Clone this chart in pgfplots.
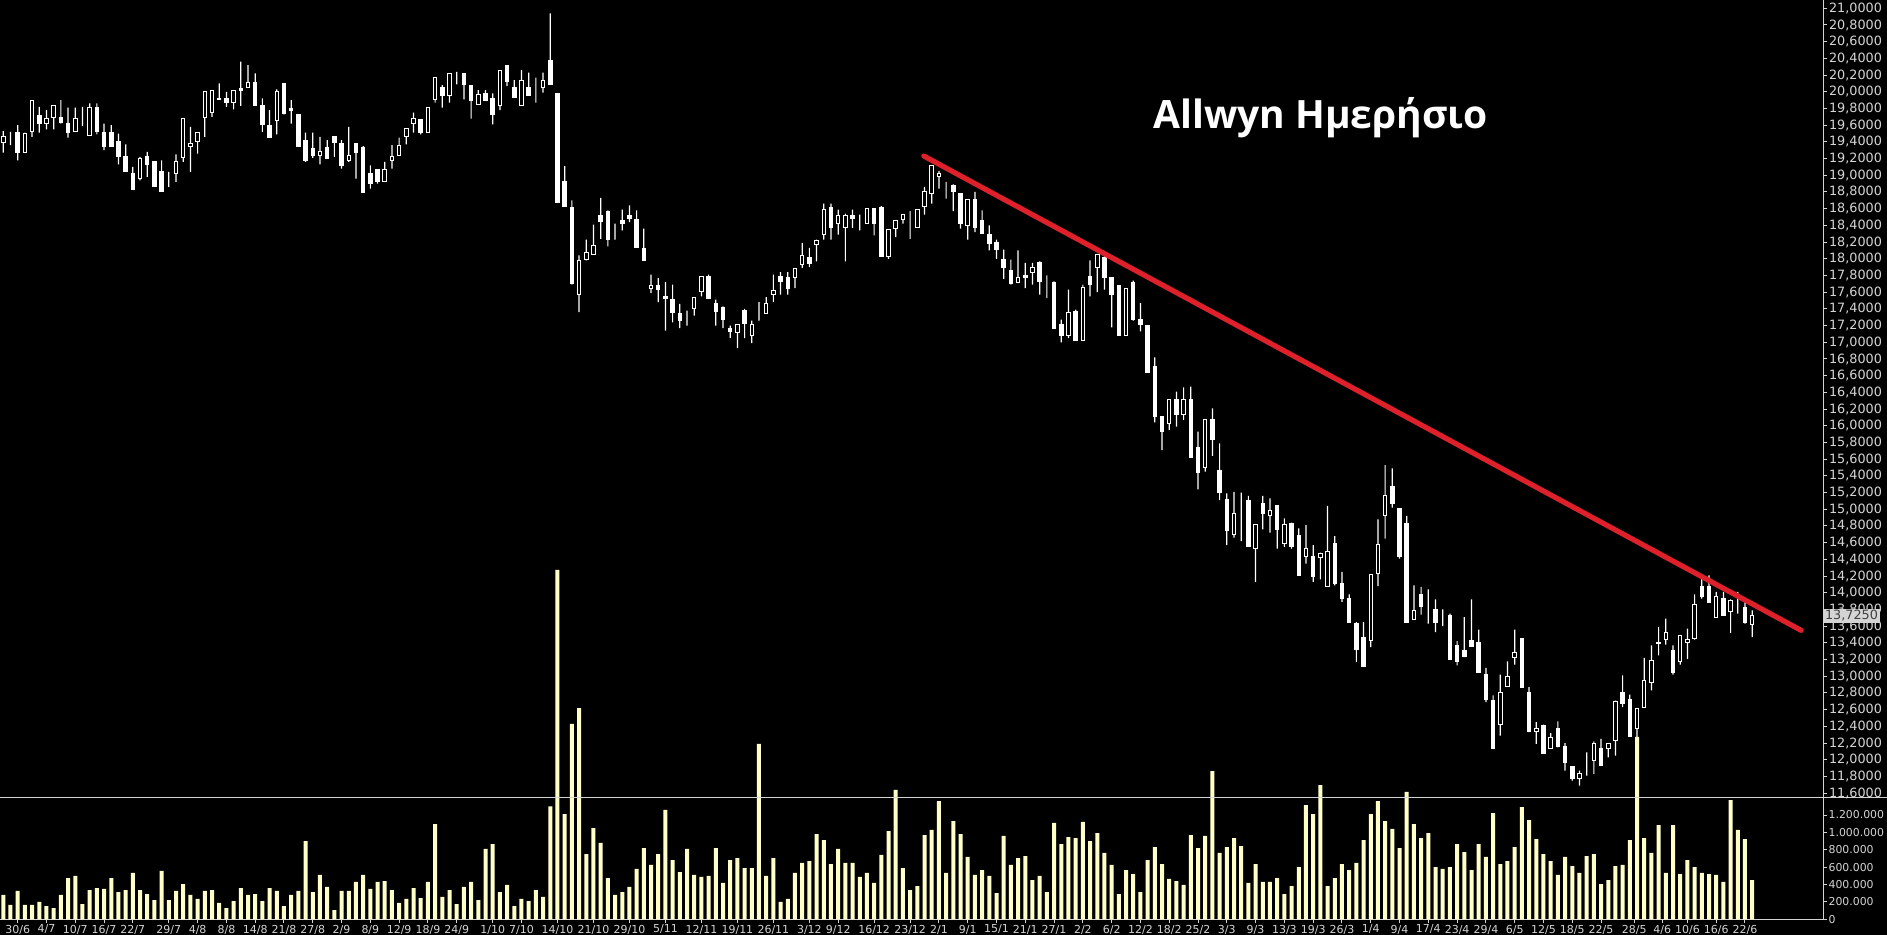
\documentclass[border=0pt]{standalone}
\usepackage{fontspec}
\usepackage{pgfplots}
\pgfplotsset{compat=1.18}
\usepackage{pgfplotstable}
\setmainfont{DejaVu Sans}
\newfontfamily\titlefont{Open Sans}
\definecolor{vol}{RGB}{255,255,200}
\definecolor{trend}{RGB}{222,32,42}
\definecolor{frame}{RGB}{212,212,212}

\pgfplotstableread{
i o h l c v
1 19.39 19.53 19.27 19.47 0.28
2 19.51 19.52 19.36 19.51 0.165
3 19.51 19.60 19.18 19.27 0.326
4 19.27 19.51 19.27 19.50 0.165
5 19.52 19.90 19.46 19.90 0.165
6 19.72 19.82 19.51 19.62 0.20
7 19.62 19.78 19.55 19.68 0.153
8 19.69 19.83 19.55 19.83 0.13
9 19.69 19.90 19.62 19.63 0.28
10 19.62 19.81 19.45 19.51 0.475
11 19.53 19.81 19.53 19.68 0.50
12 19.72 19.82 19.59 19.72 0.176
13 19.48 19.86 19.48 19.81 0.337
14 19.81 19.86 19.49 19.52 0.36
15 19.51 19.62 19.30 19.34 0.35
16 19.51 19.60 19.34 19.34 0.475
17 19.41 19.50 19.13 19.22 0.314
18 19.22 19.37 19.04 19.04 0.337
19 19.02 19.10 18.83 18.83 0.533
20 18.96 19.22 18.94 19.20 0.337
21 19.22 19.28 18.98 19.13 0.29
22 19.17 19.17 18.86 18.86 0.222
23 19.04 19.18 18.80 18.80 0.556
24 18.97 19.04 18.86 18.97 0.222
25 19.02 19.25 18.92 19.17 0.326
26 19.21 19.68 19.16 19.68 0.406
27 19.34 19.58 19.04 19.38 0.28
28 19.40 19.51 19.26 19.51 0.234
29 19.69 20.00 19.46 20.00 0.326
30 19.75 20.02 19.70 20.02 0.337
31 19.92 20.10 19.91 19.91 0.188
32 19.92 20.00 19.82 19.87 0.13
33 19.87 20.02 19.79 20.02 0.21
34 20.04 20.36 19.83 20.02 0.36
35 20.05 20.32 20.05 20.11 0.28
36 20.11 20.22 19.84 19.84 0.29
37 19.83 19.92 19.52 19.61 0.21
38 19.60 19.78 19.45 19.45 0.36
39 19.66 20.03 19.49 20.00 0.326
40 20.10 20.10 19.73 19.74 0.153
41 19.80 19.90 19.62 19.78 0.28
42 19.73 19.73 19.34 19.34 0.326
43 19.42 19.51 19.16 19.18 0.90
44 19.32 19.51 19.21 19.24 0.314
45 19.24 19.46 19.13 19.29 0.51
46 19.33 19.42 19.20 19.20 0.372
47 19.47 19.47 19.22 19.39 0.107
48 19.38 19.42 19.08 19.12 0.326
49 19.18 19.58 19.16 19.24 0.326
50 19.38 19.38 18.96 19.27 0.43
51 19.33 19.35 18.79 18.79 0.51
52 19.02 19.12 18.84 18.90 0.35
53 19.07 19.07 18.90 18.92 0.43
54 18.92 19.16 18.92 19.07 0.44
55 19.18 19.36 19.08 19.23 0.337
56 19.24 19.45 19.24 19.36 0.188
57 19.47 19.56 19.37 19.56 0.234
58 19.62 19.75 19.51 19.68 0.36
59 19.67 19.67 19.49 19.51 0.245
60 19.51 19.81 19.51 19.81 0.43
61 19.91 20.17 19.87 20.17 1.096
62 20.05 20.08 19.81 19.95 0.257
63 19.95 20.22 19.87 20.22 0.337
64 20.23 20.24 20.09 20.23 0.176
65 20.22 20.22 19.91 20.09 0.372
66 20.08 20.08 19.68 19.90 0.43
67 19.85 20.02 19.85 19.97 0.222
68 19.98 20.02 19.89 19.89 0.81
69 19.92 19.98 19.61 19.73 0.866
70 19.83 20.26 19.78 20.26 0.314
71 20.32 20.32 20.07 20.12 0.395
72 20.05 20.14 19.93 19.93 0.153
73 19.83 20.26 19.83 20.14 0.234
74 20.05 20.23 19.96 19.96 0.21
75 20.03 20.17 19.87 20.03 0.337
76 20.05 20.23 19.99 20.14 0.257
77 20.38 20.94 20.09 20.09 1.30
78 19.98 19.98 18.68 18.68 4.02
79 18.92 19.11 18.63 18.63 1.21
80 18.62 18.70 17.69 17.70 2.25
81 17.57 18.04 17.36 17.98 2.43
82 17.99 18.23 17.98 18.08 0.75
83 18.05 18.41 18.05 18.16 1.05
84 18.52 18.73 18.24 18.45 0.88
85 18.57 18.58 18.15 18.23 0.475
86 18.32 18.42 18.23 18.32 0.28
87 18.46 18.59 18.34 18.42 0.314
88 18.52 18.64 18.44 18.48 0.372
89 18.47 18.58 18.14 18.14 0.579
90 18.12 18.36 17.98 17.98 0.82
91 17.65 17.81 17.59 17.68 0.625
92 17.68 17.77 17.48 17.63 0.75
93 17.55 17.72 17.14 17.53 1.258
94 17.51 17.69 17.24 17.36 0.68
95 17.35 17.46 17.17 17.26 0.544
96 17.26 17.38 17.20 17.26 0.81
97 17.40 17.54 17.32 17.54 0.51
98 17.61 17.79 17.55 17.79 0.487
99 17.79 17.81 17.53 17.53 0.50
100 17.46 17.51 17.20 17.37 0.82
101 17.42 17.43 17.17 17.27 0.418
102 17.17 17.20 17.05 17.13 0.68
103 17.12 17.21 16.93 17.21 0.705
104 17.38 17.40 17.05 17.23 0.59
105 17.08 17.26 16.99 17.21 0.59
106 17.30 17.48 17.26 17.30 2.02
107 17.34 17.54 17.34 17.47 0.50
108 17.57 17.81 17.48 17.62 0.705
109 17.79 17.84 17.57 17.73 0.20
110 17.77 17.84 17.57 17.65 0.234
111 17.77 17.88 17.65 17.88 0.533
112 17.93 18.19 17.89 18.04 0.648
113 18.02 18.13 17.90 17.94 0.67
114 18.17 18.23 17.97 18.22 0.98
115 18.29 18.66 18.23 18.59 0.91
116 18.62 18.66 18.23 18.38 0.636
117 18.42 18.59 18.29 18.52 0.81
118 18.37 18.54 17.97 18.52 0.648
119 18.52 18.59 18.37 18.48 0.648
120 18.52 18.53 18.34 18.52 0.487
121 18.42 18.60 18.42 18.60 0.533
122 18.60 18.60 18.28 18.42 0.418
123 18.62 18.63 18.03 18.03 0.74
124 18.03 18.35 18.00 18.35 1.016
125 18.36 18.46 18.26 18.46 1.49
126 18.47 18.53 18.42 18.53 0.59
127 18.53 18.57 18.24 18.53 0.337
128 18.38 18.59 18.38 18.59 0.383
129 18.63 18.86 18.53 18.80 0.97
130 18.78 19.12 18.66 19.12 1.03
131 18.99 19.05 18.84 19.02 1.36
132 18.89 18.92 18.72 18.89 0.533
133 18.88 18.89 18.57 18.80 1.13
134 18.78 18.78 18.36 18.42 0.98
135 18.40 18.71 18.23 18.71 0.717
136 18.71 18.80 18.32 18.38 0.51
137 18.46 18.58 18.30 18.30 0.567
138 18.29 18.40 18.10 18.18 0.50
139 18.20 18.23 18.00 18.11 0.30
140 17.99 18.11 17.76 17.90 0.96
141 17.86 17.99 17.69 17.71 0.625
142 17.72 18.10 17.71 17.78 0.705
143 17.80 17.95 17.65 17.77 0.728
144 17.83 17.95 17.69 17.90 0.452
145 17.96 17.97 17.57 17.73 0.50
146 17.72 17.80 17.53 17.72 0.314
147 17.72 17.73 17.17 17.17 1.11
148 17.21 17.27 17.00 17.08 0.866
149 17.08 17.63 17.05 17.36 0.947
150 17.37 17.39 17.02 17.02 0.935
151 17.02 17.69 17.02 17.66 1.12
152 17.79 17.98 17.55 17.69 0.90
153 17.89 18.06 17.60 18.05 0.993
154 18.02 18.04 17.63 17.78 0.763
155 17.77 17.78 17.18 17.57 0.625
156 17.68 17.68 17.08 17.08 0.29
157 17.08 17.65 17.08 17.65 0.567
158 17.72 17.74 17.26 17.27 0.52
159 17.27 17.47 17.13 17.21 0.314
160 17.20 17.20 16.64 16.64 0.68
161 16.71 16.82 16.04 16.11 0.83
162 16.11 16.11 15.71 15.93 0.636
163 16.03 16.32 15.95 16.32 0.464
164 16.32 16.41 15.99 16.13 0.44
165 16.13 16.46 16.07 16.32 0.395
166 16.32 16.47 15.62 15.62 0.97
167 15.74 15.93 15.24 15.44 0.82
168 15.50 16.07 15.45 16.07 0.96
169 16.07 16.21 15.64 15.83 1.706
170 15.47 15.79 15.11 15.20 0.763
171 15.12 15.19 14.57 14.75 0.83
172 14.70 15.21 14.66 14.95 0.935
173 14.96 15.20 14.62 14.96 0.843
174 15.11 15.16 14.55 14.55 0.418
175 14.53 14.82 14.13 14.82 0.636
176 15.07 15.16 14.76 14.95 0.43
177 14.93 15.13 14.72 14.98 0.43
178 15.05 15.05 14.53 14.76 0.475
179 14.59 14.89 14.55 14.82 0.29
180 14.83 14.84 14.53 14.56 0.383
181 14.69 14.77 14.21 14.21 0.60
182 14.43 14.81 14.35 14.53 1.315
183 14.44 14.57 14.13 14.19 1.21
184 14.42 14.48 14.16 14.47 1.545
185 14.08 15.04 14.08 14.50 0.383
186 14.59 14.68 14.09 14.11 0.475
187 14.11 14.25 13.89 13.93 0.636
188 13.93 13.98 13.64 13.64 0.567
189 13.63 13.65 13.17 13.32 0.648
190 13.47 13.65 13.12 13.12 0.91
191 13.43 14.22 13.35 14.22 1.21
192 14.23 14.88 14.08 14.58 1.36
193 14.93 15.53 14.65 15.17 1.13
194 15.27 15.49 15.02 15.07 1.04
195 15.01 15.01 14.41 14.43 0.82
196 14.83 14.92 13.64 13.64 1.465
197 13.68 14.09 13.68 13.79 1.096
198 13.98 14.07 13.74 13.84 0.935
199 13.83 14.04 13.63 13.83 0.993
200 13.80 13.92 13.53 13.65 0.60
201 13.65 13.80 13.60 13.65 0.579
202 13.73 13.75 13.20 13.20 0.60
203 13.37 13.42 13.13 13.18 0.866
204 13.31 13.71 13.23 13.24 0.774
205 13.43 13.92 13.36 13.36 0.567
206 13.41 13.56 13.04 13.04 0.866
207 13.02 13.10 12.69 12.72 0.717
208 12.71 12.77 12.13 12.13 1.223
209 12.42 13.02 12.29 12.81 0.636
210 12.88 13.18 12.88 13.00 0.67
211 13.23 13.56 13.14 13.28 0.83
212 13.45 13.45 12.87 12.87 1.29
213 12.81 12.87 12.33 12.34 1.14
214 12.34 12.45 12.19 12.37 0.924
215 12.41 12.42 12.08 12.08 0.75
216 12.13 12.32 12.13 12.27 0.67
217 12.37 12.46 12.15 12.16 0.51
218 12.16 12.20 11.87 11.97 0.717
219 11.92 11.92 11.75 11.78 0.613
220 11.78 11.87 11.69 11.83 0.533
221 11.82 12.09 11.81 11.82 0.728
222 11.99 12.22 11.83 12.20 0.75
223 12.13 12.25 11.93 11.93 0.406
224 12.13 12.20 12.03 12.20 0.452
225 12.23 12.71 12.05 12.70 0.613
226 12.80 13.01 12.63 12.68 0.625
227 12.72 12.78 12.28 12.28 0.91
228 12.38 12.62 12.27 12.62 2.10
229 12.63 13.22 12.63 12.95 0.935
230 12.93 13.37 12.83 13.19 0.763
231 13.40 13.59 13.25 13.39 1.085
232 13.44 13.69 13.38 13.53 0.533
233 13.31 13.37 13.02 13.05 1.085
234 13.18 13.49 13.14 13.49 0.52
235 13.41 13.57 13.21 13.44 0.68
236 13.45 13.98 13.44 13.86 0.60
237 14.08 14.20 13.93 13.95 0.533
238 14.08 14.21 13.88 13.88 0.52
239 13.71 14.01 13.71 13.95 0.51
240 13.93 14.01 13.73 13.73 0.43
241 13.77 13.92 13.52 13.91 1.37
242 13.81 14.01 13.75 13.81 1.03
243 13.82 13.89 13.63 13.65 0.924
244 13.62 13.79 13.47 13.725 0.452
}\data

\pgfplotsset{
  common/.style={at={(0,0)}, anchor=north west, scale only axis,
    width=911.5pt, xmin=0.5415, xmax=253.84},
  pricebox/.style={common, height=399pt, ymin=11.5425, ymax=21.0994},
}

\begin{document}
\begin{tikzpicture}
\path[fill=black, use as bounding box] (0,0) rectangle (943.5pt,-467.5pt);

% volume panel (spans full height so tall bars rise into the price area)
\begin{axis}[common, name=volax, height=459.65pt, ymin=0, ymax=10.579,
  axis x line*=bottom, axis y line*=right,
  axis line style={frame, line width=0.5pt, -},
  tick style={frame, line width=0.5pt}, major tick length=2pt, tick align=outside,
  ybar, bar width=2pt,
  xtick={3,7,11,15,19,24,28,32,36,40,44,48,52,56,60,64,69,73,78,83,88,93,98,103,108,113,117,122,127,131,135,139,143,147,151,155,159,163,167,171,175,179,183,187,191,195,199,203,207,211,215,219,223,227.6,231.5,235,239,243},
  xticklabels={30/6,4/7,10/7,16/7,22/7,29/7,4/8,8/8,14/8,21/8,27/8,2/9,8/9,12/9,18/9,24/9,1/10,7/10,14/10,21/10,29/10,5/11,12/11,19/11,26/11,3/12,9/12,16/12,23/12,2/1,9/1,15/1,21/1,27/1,2/2,6/2,12/2,18/2,25/2,3/3,9/3,13/3,19/3,26/3,1/4,9/4,17/4,23/4,29/4,6/5,12/5,18/5,22/5,28/5,4/6,10/6,16/6,22/6},
  xticklabel style={font=\fontsize{5.5}{6}\selectfont, text=frame, inner sep=0.6pt},
  ytick={0,0.2,0.4,0.6,0.8,1.0,1.2},
  yticklabels={0,200.000,400.000,600.000,800.000,1.000.000,1.200.000},
  yticklabel style={font=\fontsize{5.45}{6}\selectfont, text=frame, inner sep=0.6pt},
  clip=false]
\addplot[fill=vol, draw=none] table[x=i, y=v] {\data};
\end{axis}

% price frame, ticks and wicks
\begin{axis}[pricebox, name=price,
  axis x line*=top, axis y line*=right,
  axis line style={frame, line width=0.5pt, -},
  tick style={frame, line width=0.5pt}, major tick length=2pt, tick align=outside,
  xtick=\empty,
  ytick={11.6,11.8,...,21.05},
  /pgf/number format/fixed, /pgf/number format/fixed zerofill,
  /pgf/number format/precision=4, /pgf/number format/use comma,
  /pgf/number format/1000 sep={}, /pgf/number format/assume math mode=true,
  yticklabel style={font=\fontsize{6.4}{7}\selectfont, text=frame, inner sep=0.8pt},
  extra y ticks={13.725},
  extra y tick style={major tick length=0pt, yticklabel style={fill=frame, text=black!75}},
  ybar stacked, bar width=0.6pt]
\addplot[draw=none, fill=none] table[x=i, y=l] {\data};
\addplot[draw=none, fill=white] table[x=i, y expr=\thisrow{h}-\thisrow{l}] {\data};
\end{axis}

% candle bodies
\begin{axis}[pricebox, hide axis, ybar stacked, bar width=1.75pt]
\addplot[draw=none, fill=none] table[x=i, y expr={min(\thisrow{o},\thisrow{c})}] {\data};
\addplot[draw=white, line width=0.5pt, fill=black] table[x=i, y expr={max(\thisrow{c}-\thisrow{o},0)}] {\data};
\addplot[draw=white, line width=0.5pt, fill=white] table[x=i, y expr={max(\thisrow{o}-\thisrow{c},0)}] {\data};
\end{axis}

% trend line
\begin{axis}[pricebox, hide axis]
\addplot[trend, line width=2.6pt, line cap=round] coordinates {(128.9,19.231) (250.8,13.55)};
\end{axis}

\draw[frame, line width=0.5pt] (price.south west) -- ++(943.5pt,0);
\node[anchor=base west, text=white, inner sep=0pt, font=\titlefont\bfseries\fontsize{19.5}{22}\selectfont]
  at ([xshift=576.5pt, yshift=-64.5pt]price.north west) {Allwyn Ημερήσιο};
\end{tikzpicture}
\end{document}
